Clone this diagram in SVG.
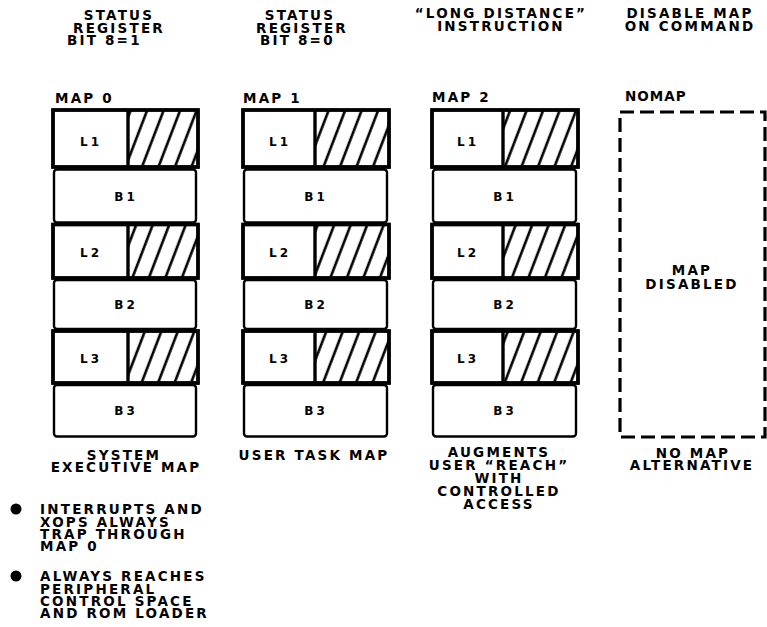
<svg xmlns="http://www.w3.org/2000/svg" width="767" height="627" viewBox="0 0 767 627">
<defs>
<style>
.t{font-family:"DejaVu Sans","Liberation Sans",sans-serif;font-weight:bold;font-size:13.5px;letter-spacing:2.2px;fill:#000}
.m{text-anchor:middle}
.s{font-size:12px;letter-spacing:3px}
.L{fill:#fff;stroke:#000;stroke-width:3.4}
.B{fill:#fff;stroke:#000;stroke-width:2.4}
.d{stroke:#000;stroke-width:3.4}
.h{fill:url(#hatch);stroke:none}
</style>
<pattern id="hatch" patternUnits="userSpaceOnUse" width="16.5" height="20" patternTransform="skewX(-21)">
<line x1="8" y1="-1" x2="8" y2="21" stroke="#000" stroke-width="2.8"/>
</pattern>
</defs>
<rect width="767" height="627" fill="#fff"/>

<g id="headers">
<text class="t m" x="119" y="20">STATUS</text>
<text class="t m" x="119" y="32.5">REGISTER</text>
<text class="t" x="67" y="45">BIT 8=1</text>
<text class="t m" x="300" y="20">STATUS</text>
<text class="t m" x="302" y="32.5">REGISTER</text>
<text class="t" x="260" y="45">BIT 8=0</text>
<text class="t m" x="501" y="18">“LONG DISTANCE”</text>
<text class="t m" x="501" y="31">INSTRUCTION</text>
<text class="t m" x="690" y="18">DISABLE MAP</text>
<text class="t m" x="690" y="31">ON COMMAND</text>
</g>

<g id="map0">
<text class="t" x="55" y="103">MAP 0</text>
<rect class="L" x="53" y="110" width="145" height="57"/>
<rect class="h" x="128" y="110" width="70" height="57"/>
<line class="d" x1="128" y1="110" x2="128" y2="167"/>
<rect class="L" x="53" y="110" width="145" height="57" style="fill:none"/>
<rect class="B" x="54" y="169.5" width="142" height="53" rx="3"/>
<rect class="L" x="53" y="224.5" width="145" height="53.5"/>
<rect class="h" x="128" y="224.5" width="70" height="53.5"/>
<line class="d" x1="128" y1="224.5" x2="128" y2="278"/>
<rect class="L" x="53" y="224.5" width="145" height="53.5" style="fill:none"/>
<rect class="B" x="54" y="280" width="142" height="49" rx="3"/>
<rect class="L" x="53" y="331" width="145" height="52"/>
<rect class="h" x="128" y="331" width="70" height="52"/>
<line class="d" x1="128" y1="331" x2="128" y2="383"/>
<rect class="L" x="53" y="331" width="145" height="52" style="fill:none"/>
<rect class="B" x="54" y="385" width="142" height="51.5" rx="3"/>
<text class="t s m" x="91" y="145.5">L1</text>
<text class="t s m" x="126" y="200.5">B1</text>
<text class="t s m" x="91" y="256.5">L2</text>
<text class="t s m" x="126" y="308.5">B2</text>
<text class="t s m" x="91" y="362.5">L3</text>
<text class="t s m" x="126" y="414.5">B3</text>
</g>

<g id="map1">
<text class="t" x="243" y="103">MAP 1</text>
<rect class="L" x="243" y="110" width="146" height="57"/>
<rect class="h" x="315" y="110" width="74" height="57"/>
<line class="d" x1="315" y1="110" x2="315" y2="167"/>
<rect class="L" x="243" y="110" width="146" height="57" style="fill:none"/>
<rect class="B" x="244" y="169.5" width="143" height="53" rx="3"/>
<rect class="L" x="243" y="224.5" width="146" height="53.5"/>
<rect class="h" x="315" y="224.5" width="74" height="53.5"/>
<line class="d" x1="315" y1="224.5" x2="315" y2="278"/>
<rect class="L" x="243" y="224.5" width="146" height="53.5" style="fill:none"/>
<rect class="B" x="244" y="280" width="143" height="49" rx="3"/>
<rect class="L" x="243" y="331" width="146" height="52"/>
<rect class="h" x="315" y="331" width="74" height="52"/>
<line class="d" x1="315" y1="331" x2="315" y2="383"/>
<rect class="L" x="243" y="331" width="146" height="52" style="fill:none"/>
<rect class="B" x="244" y="385" width="143" height="51.5" rx="3"/>
<text class="t s m" x="280" y="145.5">L1</text>
<text class="t s m" x="316" y="200.5">B1</text>
<text class="t s m" x="280" y="256.5">L2</text>
<text class="t s m" x="316" y="308.5">B2</text>
<text class="t s m" x="280" y="362.5">L3</text>
<text class="t s m" x="316" y="414.5">B3</text>
</g>

<g id="map2">
<text class="t" x="432" y="102">MAP 2</text>
<rect class="L" x="432" y="110" width="146" height="57"/>
<rect class="h" x="503" y="110" width="75" height="57"/>
<line class="d" x1="503" y1="110" x2="503" y2="167"/>
<rect class="L" x="432" y="110" width="146" height="57" style="fill:none"/>
<rect class="B" x="433" y="169.5" width="143" height="53" rx="3"/>
<rect class="L" x="432" y="224.5" width="146" height="53.5"/>
<rect class="h" x="503" y="224.5" width="75" height="53.5"/>
<line class="d" x1="503" y1="224.5" x2="503" y2="278"/>
<rect class="L" x="432" y="224.5" width="146" height="53.5" style="fill:none"/>
<rect class="B" x="433" y="280" width="143" height="49" rx="3"/>
<rect class="L" x="432" y="331" width="146" height="52"/>
<rect class="h" x="503" y="331" width="75" height="52"/>
<line class="d" x1="503" y1="331" x2="503" y2="383"/>
<rect class="L" x="432" y="331" width="146" height="52" style="fill:none"/>
<rect class="B" x="433" y="385" width="143" height="51.5" rx="3"/>
<text class="t s m" x="468" y="145.5">L1</text>
<text class="t s m" x="505" y="200.5">B1</text>
<text class="t s m" x="468" y="256.5">L2</text>
<text class="t s m" x="505" y="308.5">B2</text>
<text class="t s m" x="468" y="362.5">L3</text>
<text class="t s m" x="505" y="414.5">B3</text>
</g>

<g id="nomap">
<text class="t" x="625" y="101" style="letter-spacing:1px">NOMAP</text>
<rect x="620" y="112" width="145" height="325" fill="none" stroke="#000" stroke-width="3.2" stroke-dasharray="14 6"/>
<text class="t m" x="692" y="275">MAP</text>
<text class="t m" x="692" y="289">DISABLED</text>
</g>

<g id="captions">
<text class="t m" x="124" y="460">SYSTEM</text>
<text class="t m" x="126" y="472">EXECUTIVE MAP</text>
<text class="t m" x="314" y="460">USER TASK MAP</text>
<text class="t m" x="499" y="457">AUGMENTS</text>
<text class="t m" x="499" y="470">USER “REACH”</text>
<text class="t m" x="499" y="483">WITH</text>
<text class="t m" x="499" y="496">CONTROLLED</text>
<text class="t m" x="499" y="509">ACCESS</text>
<text class="t m" x="693" y="458">NO MAP</text>
<text class="t m" x="692" y="470">ALTERNATIVE</text>
</g>

<g id="notes">
<circle cx="16" cy="509" r="5.5" fill="#000"/>
<text class="t" x="40" y="514">INTERRUPTS AND</text>
<text class="t" x="40" y="526.5">XOPS ALWAYS</text>
<text class="t" x="40" y="539">TRAP THROUGH</text>
<text class="t" x="40" y="551">MAP 0</text>
<circle cx="16" cy="576" r="5.5" fill="#000"/>
<text class="t" x="40" y="581">ALWAYS REACHES</text>
<text class="t" x="40" y="593.5">PERIPHERAL</text>
<text class="t" x="40" y="606">CONTROL SPACE</text>
<text class="t" x="40" y="618">AND ROM LOADER</text>
</g>
<g id="connectors"></g>
</svg>
